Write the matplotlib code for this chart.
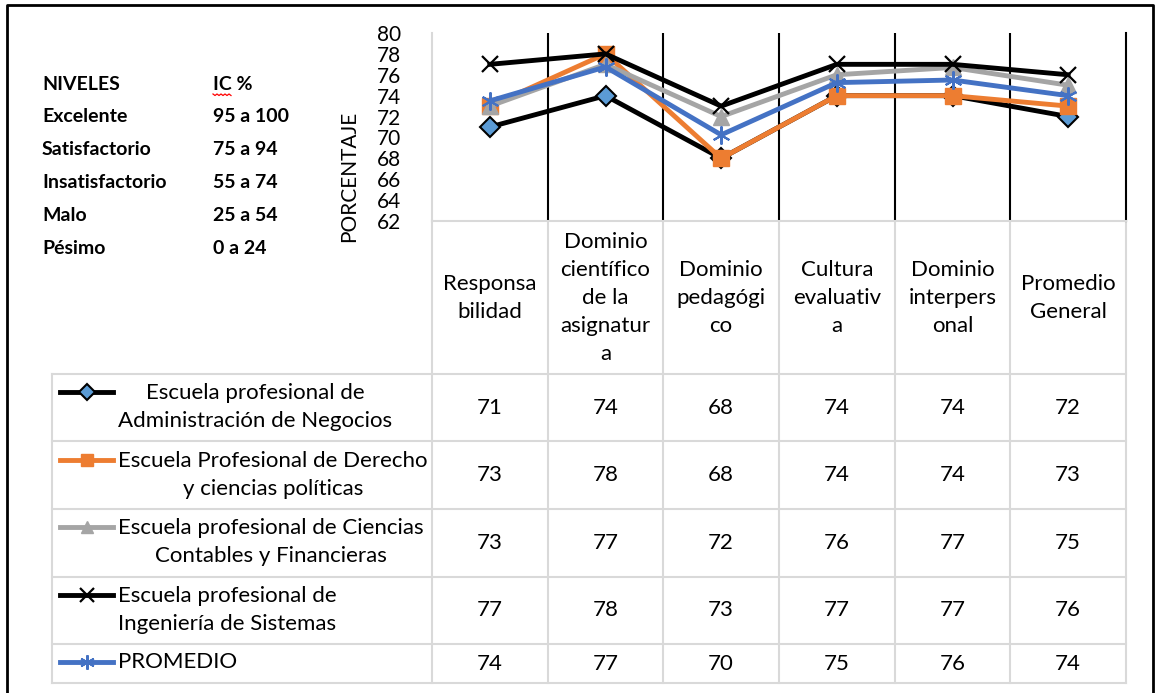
import numpy as np
import matplotlib.pyplot as plt
from matplotlib.lines import Line2D
from matplotlib.transforms import blended_transform_factory

plt.rcParams['font.family'] = ['Lato', 'DejaVu Sans']

# Dimensiones evaluadas
categorias = ["Responsa\nbilidad", "Dominio\ncientífico\nde la\nasignatur\na",
              "Dominio\npedagógi\nco", "Cultura\nevaluativ\na",
              "Dominio\ninterpers\nonal", "Promedio\nGeneral"]

# Valores graficados (%)
admin = [71, 74, 68, 74, 74, 72]
derecho = [73, 78, 68, 74, 74, 73]
contables = [73, 77, 72, 76, 76.7, 75]
sistemas = [77, 78, 73, 77, 77, 76]
promedio = [73.5, 76.75, 70.25, 75.25, 75.5, 74]

# Valores mostrados en la tabla
tabla_admin = [71, 74, 68, 74, 74, 72]
tabla_derecho = [73, 78, 68, 74, 74, 73]
tabla_contables = [73, 77, 72, 76, 77, 75]
tabla_sistemas = [77, 78, 73, 77, 77, 76]
tabla_promedio = [74, 77, 70, 75, 76, 74]

nombres = ["Escuela profesional de\nAdministración de Negocios",
           "Escuela Profesional de Derecho\ny ciencias políticas",
           "Escuela profesional de Ciencias\nContables y Financieras",
           "Escuela profesional de\nIngeniería de Sistemas",
           "PROMEDIO"]

# Niveles de calificación
niveles = ["NIVELES", "Excelente", "Satisfactorio", "Insatisfactorio", "Malo", "Pésimo"]
rangos = ["IC %", "95 a 100", "75 a 94", "55 a 74", "25 a 54", "0 a 24"]

# Estilos de cada serie
estilos = [
    dict(color="black", marker="D", markerfacecolor="#5b9bd5", markeredgecolor="black",
         markersize=10, markeredgewidth=1.5),
    dict(color="#ed7d31", marker="s", markerfacecolor="#ed7d31", markeredgecolor="#ed7d31",
         markersize=11),
    dict(color="#a5a5a5", marker="^", markerfacecolor="#a5a5a5", markeredgecolor="#a5a5a5",
         markersize=11),
    dict(color="black", marker="x", markeredgecolor="black", markersize=12,
         markeredgewidth=1.6),
    dict(color="#4472c4", marker=(6, 2, 0), markeredgecolor="#4472c4", markersize=13,
         markeredgewidth=1.5),
]

W, H = 1158, 693
fig = plt.figure(figsize=(W / 100, H / 100), dpi=100)

# Capa de fondo en píxeles
ov = fig.add_axes([0, 0, 1, 1])
ov.set_xlim(0, W)
ov.set_ylim(H, 0)
ov.axis("off")

# Gráfico de líneas
x0, x1, ytop, ybot = 432, 1126, 33, 221
ax = fig.add_axes([x0 / W, 1 - ybot / H, (x1 - x0) / W, (ybot - ytop) / H])
ax.patch.set_alpha(0)

x = np.arange(len(categorias))
for vals, st in zip([admin, derecho, contables, sistemas, promedio], estilos):
    ax.plot(x, vals, linewidth=3.5, **st)

ax.set_xlim(-0.5, len(categorias) - 0.5)
ax.set_ylim(62, 80)
ax.set_yticks(np.arange(62, 81, 2))
ax.set_xticks([])
ax.tick_params(axis="y", length=0, pad=22, labelsize=15)
for xv in np.arange(0.5, len(categorias) - 0.5, 1):
    ax.axvline(xv, color="black", linewidth=1.5, zorder=0)
ax.spines["top"].set_visible(False)
ax.spines["right"].set_color("black")
ax.spines["right"].set_linewidth(1.5)
ax.spines["left"].set_color("#d9d9d9")
ax.spines["left"].set_linewidth(1.5)
ax.spines["bottom"].set_color("#d9d9d9")
ax.spines["bottom"].set_linewidth(1.5)
ax.set_ylabel("PORCENTAJE", fontsize=15, va="center")
ax.yaxis.set_label_coords((349 - x0) / (x1 - x0), (ybot - 176) / (ybot - ytop))

# Tabla de datos
gris = "#d9d9d9"
bt = blended_transform_factory(ax.transData, ov.transData)
filas = [374, 441, 509, 577, 644, 683]
for xv in np.arange(-0.5, len(categorias), 1):
    ov.plot([xv, xv], [ybot, filas[-1]], color=gris, linewidth=1.5, transform=bt)
for yv in filas:
    ov.plot([52, x1], [yv, yv], color=gris, linewidth=1.5)
ov.plot([52, 52], [filas[0], filas[-1]], color=gris, linewidth=1.5)

for i, cat in enumerate(categorias):
    ov.text(i, (ybot + filas[0]) / 2, cat, transform=bt, ha="center", va="center",
            fontsize=16, linespacing=1.5, multialignment="center")

tablas = [tabla_admin, tabla_derecho, tabla_contables, tabla_sistemas, tabla_promedio]
claves_y = [392, 460, 527, 595, 662]
for r, (tab, nom, st, ky) in enumerate(zip(tablas, nombres, estilos, claves_y)):
    yc = (filas[r] + filas[r + 1]) / 2
    for i, v in enumerate(tab):
        ov.text(i, yc, str(v), transform=bt, ha="center", va="center", fontsize=16)
    ov.add_line(Line2D([60, 113], [ky, ky], linewidth=3.5, color=st["color"]))
    mk = {k: v for k, v in st.items() if k != "color"}
    mk["markersize"] = mk["markersize"] * 0.8
    ov.add_line(Line2D([87], [ky], linestyle="none", **mk))
    n = nom.count("\n")
    ov.text(118, ky + n * 14.75, nom, ha="left", va="center", fontsize=16,
            linespacing=1.5, multialignment="center")

# Cuadro de niveles
for k, (niv, rg) in enumerate(zip(niveles, rangos)):
    yy = 84 + k * 32.8
    ov.text(42, yy, niv, ha="left", va="center", fontsize=14, fontweight="bold")
    ov.text(213, yy, rg, ha="left", va="center", fontsize=14, fontweight="bold")

# Subrayado ondulado del corrector
zz_x = np.linspace(213, 231, 10)
zz_y = 94 + np.where(np.arange(10) % 2 == 0, 0, 1.5)
ov.plot(zz_x, zz_y, color="red", linewidth=0.9)

# Marco exterior
ov.plot([7, 7, 1153, 1153], [H + 5, 5, 5, H + 5], color="black", linewidth=2)

fig.savefig("out.png", dpi=100)
